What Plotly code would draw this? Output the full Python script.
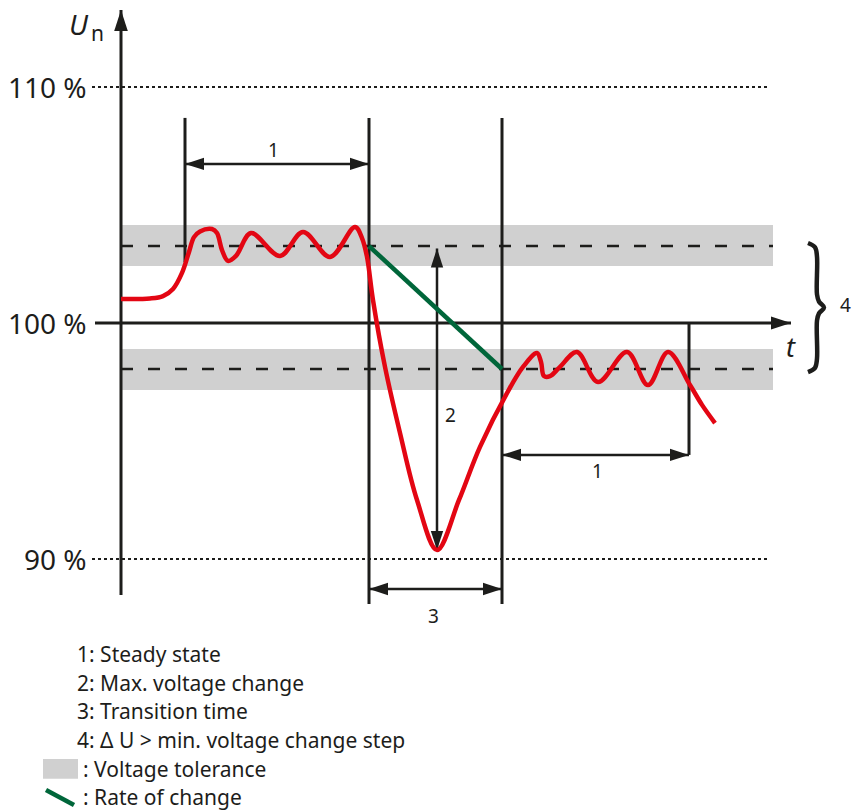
import plotly.graph_objects as go

# ---------------- data ----------------
# reference voltage levels (% of U_n)
level_values = [110, 100, 90]
level_labels = ["110 %", "100 %", "90 %"]

# tolerance bands (% of U_n) and the target (steady-state) levels inside them
band_upper = [102.42, 104.15]
band_lower = [97.16, 98.90]
target_levels = [103.26, 98.05]

# time positions (t units)
t_origin = 121
t_phase = [185, 369, 502, 689]
t_band_end = 773
t_axis_start = 95
t_axis_end = 791
t_ref_line = [92, 770]

# measured voltage curve
curve_t = [121, 150, 163, 173, 182, 189, 194, 200, 212, 217, 222, 228, 236, 251, 280, 303, 330,
           355, 362, 367, 373, 385, 400, 417, 437, 459, 480, 507, 523, 537,
           541, 544, 550, 560, 577, 598, 627, 648, 668, 690, 702, 715]
curve_u = [101.02, 101.04, 101.14, 101.44, 102.12, 103.01, 103.64, 103.88, 103.98, 103.81, 103.09,
           102.63, 102.84, 103.81, 102.84, 103.86, 102.80,
           104.07, 103.60, 102.80, 100.97, 98.14, 95.34, 92.50, 90.38, 92.50,
           94.75, 97.03, 98.14, 98.73,
           98.35, 97.75, 97.75, 98.14, 98.77, 97.50, 98.77, 97.37, 98.77, 97.37, 96.53, 95.76]

# annotation levels (% of U_n)
u_top = 108.69        # top of the phase boundary lines
u_bottom = 88.09      # bottom of the phase boundary lines
u_arrow1_top = 106.74
u_arrow1_bottom = 94.41
u_arrow3 = 88.73
u_dip = 90.38
u_axis_bottom = 88.47
u_axis_top = 113.26
u_185_bottom = 102.58

legend_rows = ["1: Steady state", "2: Max. voltage change", "3: Transition time",
               "4: \u0394 U > min. voltage change step"]
legend_swatch_rows = [": Voltage tolerance", ": Rate of change"]

# ---------------- styling ----------------
BLACK = "#1d1d1b"
RED = "#e30613"
GREEN = "#00663a"
GREY = "#d0d0d0"
FONT = "Noto Sans"

fig = go.Figure()


def line(x, y, color=BLACK, width=3, dash=None, shape="linear"):
    fig.add_trace(go.Scatter(x=x, y=y, mode="lines", hoverinfo="skip",
                             line=dict(color=color, width=width, dash=dash, shape=shape)))


def tips(x, y, angles, size=20):
    fig.add_trace(go.Scatter(x=x, y=y, mode="markers", hoverinfo="skip",
                             marker=dict(symbol="arrow", size=size, angle=angles, color=BLACK,
                                         line=dict(width=0))))


def text(x, y, s, size=19, xanchor="center", italic=False):
    fig.add_annotation(x=x, y=y, xref="x", yref="y", text=s, showarrow=False,
                       xanchor=xanchor, yanchor="middle",
                       font=dict(family=FONT, size=size, color=BLACK,
                                 style="italic" if italic else "normal"))


# tolerance bands
for lo, hi in (band_upper, band_lower):
    fig.add_shape(type="rect", xref="x", yref="y", x0=t_origin, x1=t_band_end, y0=lo, y1=hi,
                  fillcolor=GREY, line=dict(width=0), layer="below")

# dashed target lines
for lv in target_levels:
    line([t_origin, t_band_end], [lv, lv], width=2.5, dash="12px,15px")

# dotted 110 % / 90 % reference lines
for lv in (level_values[0], level_values[2]):
    line(t_ref_line, [lv, lv], width=2, dash="dot")

# axes
line([t_origin, t_origin], [u_axis_bottom, u_axis_top])
tips([t_origin], [u_axis_top], [0], size=22)
line([t_axis_start, t_axis_end], [100, 100])
tips([t_axis_end], [100], [90], size=21)

# phase boundary lines
line([t_phase[0], t_phase[0]], [u_185_bottom, u_top])
line([t_phase[1], t_phase[1]], [u_bottom, u_top])
line([t_phase[2], t_phase[2]], [u_bottom, u_top])
line([t_phase[3], t_phase[3]], [u_arrow1_bottom, 100])

# double arrows
line([t_phase[0], t_phase[1]], [u_arrow1_top, u_arrow1_top], width=2.5)
tips([t_phase[0], t_phase[1]], [u_arrow1_top, u_arrow1_top], [270, 90])
line([t_phase[2], t_phase[3]], [u_arrow1_bottom, u_arrow1_bottom], width=2.5)
tips([t_phase[2], t_phase[3]], [u_arrow1_bottom, u_arrow1_bottom], [270, 90])
line([t_phase[1], t_phase[2]], [u_arrow3, u_arrow3], width=2.5)
tips([t_phase[1], t_phase[2]], [u_arrow3, u_arrow3], [270, 90])
t_arrow2 = 437
line([t_arrow2, t_arrow2], [u_dip, target_levels[0] - 0.1], width=2.5)
tips([t_arrow2, t_arrow2], [target_levels[0] - 0.1, u_dip], [0, 180])

# rate of change
line([t_phase[1], t_phase[2]], target_levels, color=GREEN, width=4.5)

# voltage curve
line(curve_t, curve_u, color=RED, width=4.5, shape="spline")

# brace (4)
mid = (target_levels[0] + target_levels[1]) / 2
bx = 808
brace_t = [bx, bx + 7, bx + 9, bx + 9, bx + 11, bx + 16, bx + 11, bx + 9, bx + 9, bx + 7, bx]
brace_u = [target_levels[0] + 0.13, target_levels[0] - 0.05, target_levels[0] - 0.45, mid + 0.55,
           mid + 0.25, mid, mid - 0.25, mid - 0.55, target_levels[1] + 0.45, target_levels[1] + 0.05,
           target_levels[1] - 0.13]
line(brace_t, brace_u, width=4.5, shape="spline")

# level labels
for lv, lab in zip(level_values, level_labels):
    text(89, lv, lab, size=28, xanchor="right")

# axis titles
text(79, 112.65, "U", size=28, italic=True)
text(97, 112.3, "n", size=21)
text(791, 99.0, "t", size=27, italic=True)

# numbers
text(273, 107.35, "1", size=19)
text(597, 93.72, "1", size=19)
text(450, 96.1, "2", size=19)
text(433, 87.6, "3", size=19)
text(845, 100.78, "4", size=19)

# legend
row_u0 = 85.97
row_step = 1.215
for i, s in enumerate(legend_rows):
    text(75, row_u0 - i * row_step, s, size=21, xanchor="left")
for j, s in enumerate(legend_swatch_rows):
    text(81, row_u0 - (len(legend_rows) + j) * row_step, s, size=21, xanchor="left")

sw_u = row_u0 - len(legend_rows) * row_step
fig.add_shape(type="rect", xref="x", yref="y", x0=43, x1=78, y0=sw_u - 0.42, y1=sw_u + 0.42,
              fillcolor=GREY, line=dict(width=0))
gu = row_u0 - (len(legend_rows) + 1) * row_step
line([46, 74], [gu + 0.32, gu - 0.32], color=GREEN, width=4.5)

fig.update_layout(
    width=858, height=810, margin=dict(l=0, r=0, t=0, b=0),
    paper_bgcolor="white", plot_bgcolor="white", showlegend=False,
    xaxis=dict(range=[0, 858], visible=False, fixedrange=True),
    yaxis=dict(range=[79.364, 113.686], visible=False, fixedrange=True),
)

fig.write_html("out.html", config={"displayModeBar": False},
               post_script="document.body.style.margin='0px';")
